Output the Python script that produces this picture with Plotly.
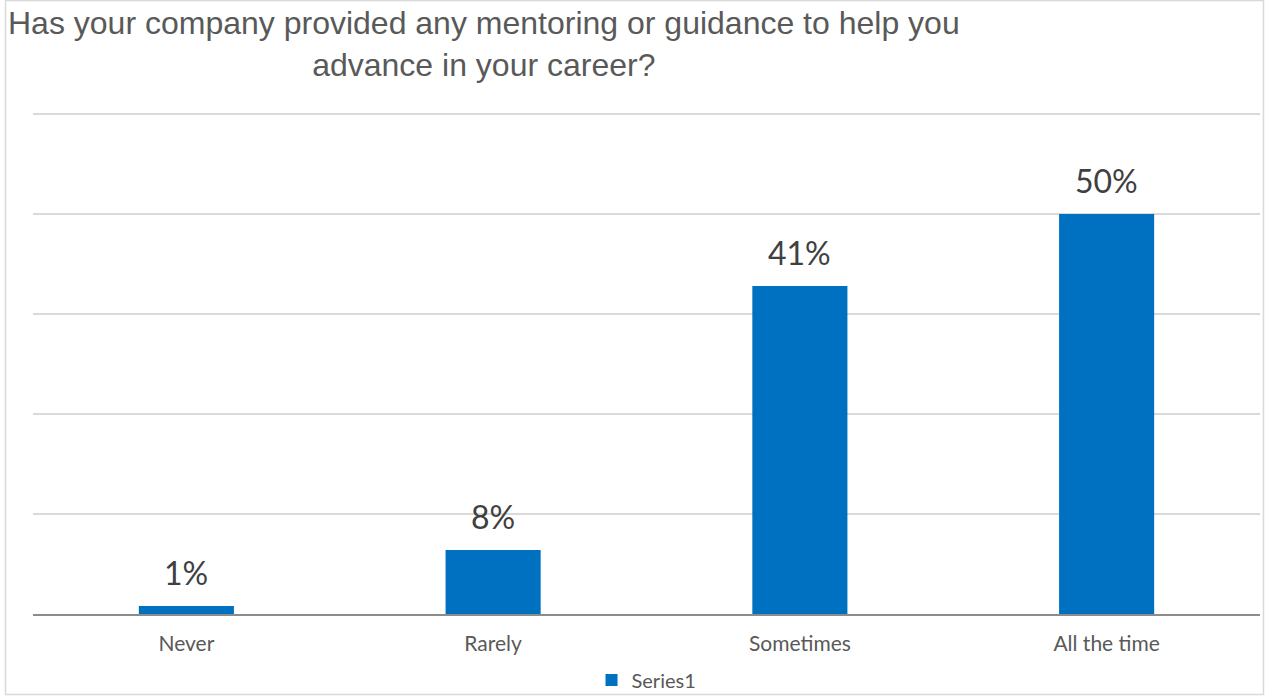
import plotly.graph_objects as go

categories = ["Never", "Rarely", "Sometimes", "All the time"]
values = [1, 8, 41, 50]
labels = ["1%", "8%", "41%", "50%"]
series_name = "Series1"

W, H = 1265, 697
L, R, T, B = 33, 5, 94, 83
pw, ph = W - L - R, H - T - B

def px_x(p):
    return (p - L) / pw

def px_y(p):
    return (H - B - p) / ph

fig = go.Figure()
fig.add_trace(go.Bar(
    x=categories, y=values, name=series_name,
    marker=dict(color="#0070C0", line=dict(width=0)),
    showlegend=True,
))

# value labels above each bar
for c, v, t in zip(categories, values, labels):
    fig.add_annotation(
        x=c, y=v, xref="x", yref="y", text=t, showarrow=False,
        yanchor="bottom", yshift=12,
        font=dict(family="Lato, Open Sans, sans-serif", size=32, color="#404040"),
    )

fig.update_layout(
    width=W, height=H,
    margin=dict(l=L, r=R, t=T, b=B, autoexpand=False),
    paper_bgcolor="white", plot_bgcolor="white",
    bargap=0.69,
    xaxis=dict(
        showgrid=False, showline=True, linecolor="#8c8c8c", linewidth=2,
        ticks="", automargin=False,
        tickfont=dict(family="Lato, Open Sans, sans-serif", size=21, color="#595959"),
        ticklabelstandoff=10,
    ),
    yaxis=dict(
        range=[0, 65], tickmode="array", tickvals=[12.5, 25, 37.5, 50, 62.5],
        showticklabels=False, automargin=False,
        showgrid=True, gridcolor="#d9d9d9", gridwidth=2, zeroline=False,
        showline=False,
    ),
    legend=dict(
        orientation="h", x=0.5, xanchor="center", y=px_y(680), yanchor="middle",
        font=dict(family="Lato, Open Sans, sans-serif", size=20, color="#595959"),
        bgcolor="rgba(0,0,0,0)",
    ),
)

fig.add_annotation(
    text="Has your company provided any mentoring or guidance to help you<br>advance in your career?",
    xref="paper", yref="paper", x=px_x(6), y=px_y(3), xanchor="left", yanchor="top",
    align="center", showarrow=False,
    font=dict(family="Liberation Sans, Arial, sans-serif", size=32, color="#595959"),
)

fig.add_shape(
    type="rect", xref="paper", yref="paper",
    x0=px_x(5.5), x1=px_x(1263.5), y0=px_y(694.5), y1=px_y(0.5),
    line=dict(color="#d9d9d9", width=1.5), fillcolor="rgba(0,0,0,0)", layer="below",
)

fig.write_html("out.html")
